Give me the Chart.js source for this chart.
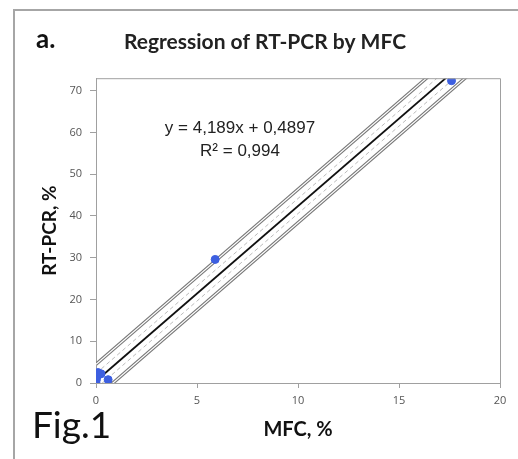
<!DOCTYPE html>
<html>
<head>
<meta charset="utf-8">
<script src="https://cdn.jsdelivr.net/npm/chart.js@4/dist/chart.umd.min.js"></script>
<style>
  html, body { margin: 0; padding: 0; background: #fff; }
  #wrap { position: relative; width: 518px; height: 459px; }
  #frame { position: absolute; left: 13px; top: 9px; width: 520px; height: 460px;
           border-left: 2px solid #a6a6a6; border-top: 2px solid #a6a6a6; }
  canvas { position: absolute; left: 0; top: 0; }
</style>
</head>
<body>
<div id="wrap">
  <div id="frame"></div>
  <canvas id="regChart" width="518" height="459"></canvas>
</div>
<script>
// measured samples (MFC %, RT-PCR %)
const mfc = [0, 0.02, 0.05, 0.1, 0.25, 0.6, 5.9, 17.6];
const rtpcr = [0, 0.8, 1.6, 2.5, 2.2, 0.8, 29.6, 72.4];

// regression y = 4.189x + 0.4897, with confidence / prediction offsets
const slope = 4.189;
const intercept = 0.4897;
const lineX = [0, 20];
const confOffset = 1.8;
const predOffset = 4.0;

const xTicks = [0, 5, 10, 15, 20];
const yTicks = [0, 10, 20, 30, 40, 50, 60, 70];

const pts = mfc.map((x, i) => ({ x: x, y: rtpcr[i] }));
const band = off => lineX.map(x => ({ x: x, y: slope * x + intercept + off }));

// lower order is drawn on top
const lineDs = (data, color, width, order, dash) => ({
  type: 'line', data: data, borderColor: color, borderWidth: width,
  borderDash: dash || [], pointRadius: 0, fill: false, order: order
});

const frameAndText = {
  id: 'frameAndText',
  afterDraw(chart) {
    const { ctx, chartArea: a } = chart;
    ctx.save();
    ctx.strokeStyle = '#a0a0a0';
    ctx.lineWidth = 1;
    ctx.beginPath();
    ctx.moveTo(a.left, a.top + 0.5);
    ctx.lineTo(a.right + 0.5, a.top + 0.5);
    ctx.lineTo(a.right + 0.5, a.bottom);
    ctx.stroke();

    ctx.fillStyle = '#222';
    ctx.textAlign = 'center';
    ctx.textBaseline = 'middle';
    ctx.font = '17px "Liberation Sans", Arial, sans-serif';
    ctx.fillText('y = 4,189x + 0,4897', 240, 128);
    ctx.fillText('R² = 0,994', 240, 151);

    ctx.textAlign = 'left';
    ctx.fillStyle = '#111';
    ctx.font = 'bold 26px Lato, sans-serif';
    ctx.fillText('a.', 36, 40);
    ctx.font = '37px Lato, sans-serif';
    ctx.fillText('Fig.1', 32, 426);
    ctx.restore();
  }
};

new Chart(document.getElementById('regChart'), {
  type: 'scatter',
  data: {
    datasets: [
      {
        data: pts,
        backgroundColor: '#3d5fe0',
        borderColor: '#3d5fe0',
        pointRadius: 4,
        order: 1
      },
      lineDs(band(0), '#111111', 1.8, 2),
      lineDs(band(predOffset), '#ffffff', 1.2, 3),
      lineDs(band(-predOffset), '#ffffff', 1.2, 3),
      lineDs(band(predOffset), '#777777', 3.4, 4),
      lineDs(band(-predOffset), '#777777', 3.4, 4),
      lineDs(band(confOffset), '#bbbbbb', 1, 5, [4, 3]),
      lineDs(band(-confOffset), '#bbbbbb', 1, 5, [4, 3])
    ]
  },
  options: {
    responsive: false,
    animation: false,
    layout: { padding: { left: 30, right: 18, top: 26, bottom: 8 } },
    plugins: {
      legend: { display: false },
      tooltip: { enabled: false },
      title: {
        display: true,
        text: 'Regression of RT-PCR by MFC',
        color: '#222',
        font: { family: 'Lato, sans-serif', size: 21, weight: 'bold' },
        padding: { top: 4, bottom: 23 }
      }
    },
    scales: {
      x: {
        type: 'linear',
        min: 0, max: 20,
        afterBuildTicks: s => { s.ticks = xTicks.map(v => ({ value: v })); },
        afterFit: s => { s.height = 68; },
        grid: { drawOnChartArea: false, color: '#a0a0a0', tickLength: 5 },
        border: { color: '#a0a0a0' },
        ticks: { color: '#555', font: { family: '"Open Sans", sans-serif', size: 11 }, padding: 6 },
        title: {
          display: true, text: 'MFC, %', color: '#111',
          font: { family: 'Lato, sans-serif', size: 20, weight: 'bold' },
          padding: { top: 4, bottom: 9 }
        }
      },
      y: {
        type: 'linear',
        min: 0, max: 73,
        afterBuildTicks: s => { s.ticks = yTicks.map(v => ({ value: v })); },
        afterFit: s => { s.width = 66; },
        grid: { drawOnChartArea: false, color: '#a0a0a0', tickLength: 6 },
        border: { color: '#a0a0a0' },
        ticks: { color: '#555', font: { family: '"Open Sans", sans-serif', size: 11 }, padding: 8 },
        title: {
          display: true, text: 'RT-PCR, %', color: '#111',
          font: { family: 'Lato, sans-serif', size: 19, weight: 'bold' },
          padding: { bottom: 0, top: 8 }
        }
      }
    }
  },
  plugins: [frameAndText]
});
</script>
</body>
</html>
